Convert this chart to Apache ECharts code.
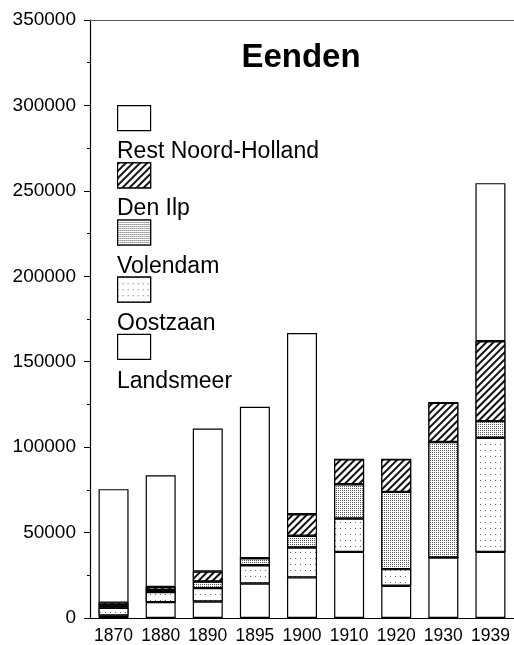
<!DOCTYPE html>
<html>
<head>
<meta charset="utf-8">
<title>Eenden</title>
<script src="https://cdn.jsdelivr.net/npm/echarts@6/dist/echarts.min.js"></script>
<style>
  html, body { margin: 0; padding: 0; background: #fff; }
  #chart { width: 514px; height: 645px; }
</style>
</head>
<body>
<div id="chart"></div>
<script>
// jaren
const years = ['1870', '1880', '1890', '1895', '1900', '1910', '1920', '1930', '1939']

// aantallen per plaats (onderste laag eerst)
const landsmeer = [1500, 9300, 9700, 20200, 23800, 38700, 18900, 35400, 38700]
const oostzaan = [4500, 5900, 7800, 10700, 17500, 19500, 9700, 0, 66800]
const volendam = [1500, 1200, 3900, 4100, 6800, 20100, 45200, 67600, 9700]
const denIlp = [1500, 1700, 5800, 0, 12600, 14600, 19100, 23000, 46800]
const restNH = [66400, 65400, 83700, 88600, 106100, 0, 0, 0, 92500]

const yTicks = [0, 50000, 100000, 150000, 200000, 250000, 300000, 350000]

const legendOrder = ['Rest Noord-Holland', 'Den Ilp', 'Volendam', 'Oostzaan', 'Landsmeer']

const font = 'Arial, "Liberation Sans", sans-serif'

// patronen
const decals = {
  Landsmeer: null,
  Oostzaan: {
    symbol: 'rect',
    symbolSize: 1,
    color: '#666',
    backgroundColor: '#fff',
    dashArrayX: [1, 4],
    dashArrayY: [1, 5],
  },
  Volendam: {
    symbol: 'rect',
    symbolSize: 1,
    color: '#555',
    backgroundColor: '#fff',
    dashArrayX: [1, 1],
    dashArrayY: [1, 1],
  },
  'Den Ilp': {
    symbol: 'rect',
    symbolSize: 1,
    color: '#111',
    backgroundColor: '#fff',
    dashArrayX: [1, 0],
    dashArrayY: [1.2, 3],
    rotation: -Math.PI / 4,
  },
  'Rest Noord-Holland': null,
}

function makeSeries(name, values) {
  const itemStyle = {
    color: '#fff',
    borderColor: '#000',
    borderWidth: 1.2,
  }
  if (decals[name])
    itemStyle.decal = decals[name]
  return {
    name,
    type: 'bar',
    stack: 'eenden',
    barWidth: 30,
    data: values,
    itemStyle,
    emphasis: { disabled: true },
    silent: true,
  }
}

const chart = echarts.init(document.getElementById('chart'))

chart.setOption({
  animation: false,
  backgroundColor: '#fff',
  title: {
    text: 'Eenden',
    left: 296,
    top: 36,
    textAlign: 'center',
    textStyle: { fontFamily: font, fontSize: 33, fontWeight: 'bold', color: '#000' },
  },
  // alleen de vakjes
  legend: [
    {
      orient: 'vertical',
      left: 112,
      top: 100,
      icon: 'rect',
      itemWidth: 33,
      itemHeight: 25,
      itemGap: 31,
      selectedMode: false,
      data: legendOrder,
      formatter: () => '',
      itemStyle: { borderColor: '#000', borderWidth: 1.2 },
      textStyle: { fontSize: 1 },
    },
    // alleen de namen
    {
      orient: 'vertical',
      left: 107,
      top: 135,
      icon: 'rect',
      itemWidth: 0,
      itemHeight: 0,
      itemGap: 34.5,
      selectedMode: false,
      data: legendOrder,
      itemStyle: { opacity: 0, borderWidth: 0 },
      textStyle: { fontFamily: font, fontSize: 23, color: '#000' },
    },
  ],
  grid: {
    left: 90,
    right: -4,
    top: 20,
    bottom: 26,
  },
  xAxis: [
    {
      type: 'category',
      data: years,
      axisLine: { lineStyle: { color: '#000', width: 1.2 } },
      axisTick: { show: false },
      axisLabel: { fontFamily: font, fontSize: 17.5, color: '#000', margin: 9, interval: 0 },
    },
    {
      type: 'category',
      data: years,
      position: 'top',
      axisLine: { lineStyle: { color: '#555', width: 1 } },
      axisTick: { show: false },
      axisLabel: { show: false },
    },
  ],
  yAxis: {
    type: 'value',
    min: yTicks[0],
    max: yTicks[yTicks.length - 1],
    interval: 50000,
    axisLine: { show: true, lineStyle: { color: '#000', width: 1.2 } },
    axisTick: { show: true, length: 6, lineStyle: { color: '#000' } },
    minorTick: { show: true, splitNumber: 2, length: 3, lineStyle: { color: '#000' } },
    splitLine: { show: false },
    axisLabel: {
      fontFamily: font,
      fontSize: 19,
      color: '#000',
      margin: 14,
      formatter: v => String(v),
    },
  },
  series: [
    makeSeries('Landsmeer', landsmeer),
    makeSeries('Oostzaan', oostzaan),
    makeSeries('Volendam', volendam),
    makeSeries('Den Ilp', denIlp),
    makeSeries('Rest Noord-Holland', restNH),
  ],
})
</script>
</body>
</html>
